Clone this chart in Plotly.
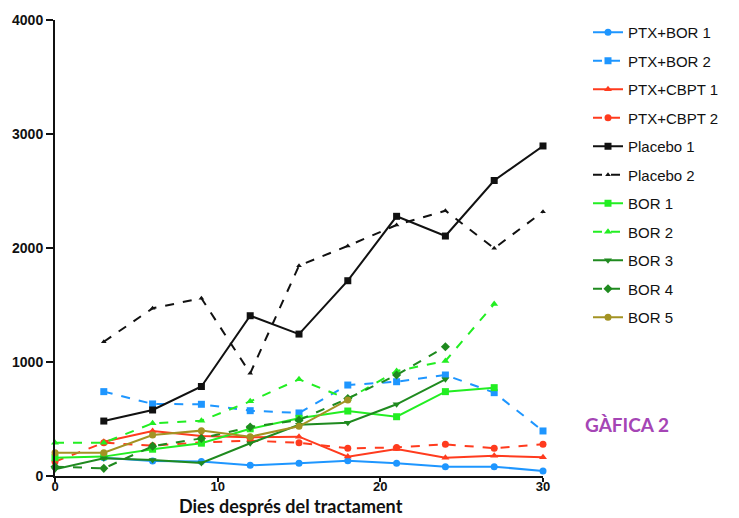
import plotly.graph_objects as go

days = [0, 3, 6, 9, 12, 15, 18, 21, 24, 27, 30]

ptx_bor_1 = [None, 161, 132, 128, 94, 111, 134, 111, 82, 82, 44]
ptx_bor_2 = [None, 740, 632, 629, 573, 553, 798, 827, 886, 731, 395]
ptx_cbpt_1 = [None, 301, 395, 350, 340, 345, 170, 237, 161, 178, 164]
ptx_cbpt_2 = [126, 292, 266, 295, 310, 292, 243, 251, 278, 243, 278]
placebo_1 = [None, 482, 579, 785, 1406, 1245, 1713, 2278, 2105, 2592, 2895]
placebo_2 = [None, 1178, 1471, 1559, 901, 1845, 2018, 2202, 2327, 1997, 2319]
bor_1 = [161, 170, 235, 288, 414, 506, 570, 520, 740, 775, None]
bor_2 = [292, 292, 462, 485, 655, 848, 675, 921, 1009, 1509, None]
bor_3 = [58, 155, 140, 114, 287, 450, 468, 629, 848, None, None]
bor_4 = [82, 67, 262, 330, 430, 490, 680, 886, 1134, None, None]
bor_5 = [205, 205, 360, 398, 345, 436, 667, None, None, None, None]

x_ticks = [0, 10, 20, 30]
y_ticks = [0, 1000, 2000, 3000, 4000]

BLUE = "#1E96FF"
RED = "#FF3B1E"
GREEN = "#22EE22"
DGREEN = "#1F8A1F"
OLIVE = "#A39323"

series = [
    ("PTX+BOR 1", ptx_bor_1, BLUE, "solid", "circle"),
    ("PTX+BOR 2", ptx_bor_2, BLUE, "dash", "square"),
    ("PTX+CBPT 1", ptx_cbpt_1, RED, "solid", "triangle-up"),
    ("PTX+CBPT 2", ptx_cbpt_2, RED, "dash", "circle"),
    ("Placebo 1", placebo_1, "#111111", "solid", "square"),
    ("Placebo 2", placebo_2, "#111111", "dash", "triangle-up"),
    ("BOR 1", bor_1, GREEN, "solid", "square"),
    ("BOR 2", bor_2, GREEN, "dash", "triangle-up"),
    ("BOR 3", bor_3, DGREEN, "solid", "triangle-down"),
    ("BOR 4", bor_4, DGREEN, "dash", "diamond"),
    ("BOR 5", bor_5, OLIVE, "solid", "circle"),
]

# page is rendered with an 8px body margin, so work in page pixels and shift
OFF = 8
W, H = 739 - OFF, 518 - OFF
PL, PR, PT, PB = 55, 543, 20, 476          # plot area in page pixels
L, T = PL - OFF, PT - OFF
R, B = W - (PR - OFF), H - (PB - OFF)
PW, PH = W - L - R, H - T - B


def px_x(px):
    return (px - PL) / PW


def px_y(py):
    return (PB - py) / PH


fig = go.Figure()
for i, (name, vals, color, dash, sym) in enumerate(series):
    size = 5 if name == "Placebo 2" else 7
    fig.add_trace(go.Scatter(
        x=days, y=vals, name=name, mode="lines+markers",
        line=dict(color=color, width=2, dash=dash),
        marker=dict(color=color, size=size, symbol=sym),
        legendgroup=f"g{i}",
        cliponaxis=False,
    ))

fig.add_annotation(
    text="<b>GÀFICA 2</b>",
    x=px_x(627), y=px_y(424), xref="paper", yref="paper",
    xanchor="center", yanchor="middle",
    showarrow=False, font=dict(family="Lato, Open Sans, sans-serif", size=19, color="#A545B5"),
)
fig.add_annotation(
    text="<b>Dies després del tractament</b>",
    x=px_x(291), y=px_y(518), xref="paper", yref="paper",
    xanchor="center", yanchor="bottom", borderpad=0,
    showarrow=False, font=dict(family="Lato, Open Sans, sans-serif", size=18, color="#111111"),
)

fig.update_layout(
    width=W, height=H,
    margin=dict(l=L, r=R, t=T, b=B, autoexpand=False),
    paper_bgcolor="white", plot_bgcolor="white",
    font=dict(family="Liberation Sans, Arial, sans-serif", color="#111111"),
    legend=dict(
        x=px_x(588), y=px_y(16), xanchor="left", yanchor="top",
        font=dict(size=15, family="Liberation Sans, Arial, sans-serif"),
        tracegroupgap=6, itemwidth=30, bgcolor="rgba(0,0,0,0)",
        maxheight=480,
    ),
    xaxis=dict(
        range=[0, 30], tickvals=x_ticks, ticktext=[f"<b>{v}</b>" for v in x_ticks],
        showline=True, linecolor="#111111", linewidth=2, ticks="outside",
        ticklen=4, tickwidth=2, tickcolor="#111111", showgrid=False, zeroline=False,
        automargin=False, ticklabelstandoff=-7,
        tickfont=dict(size=13, family="Liberation Sans, Arial, sans-serif"),
    ),
    yaxis=dict(
        range=[0, 4000], tickvals=y_ticks, ticktext=[f"<b>{v}</b>" for v in y_ticks],
        showline=True, linecolor="#111111", linewidth=2, ticks="outside",
        ticklen=7, tickwidth=2, tickcolor="#111111", showgrid=False, zeroline=False,
        automargin=False,
        tickfont=dict(size=14, family="Liberation Sans, Arial, sans-serif"),
    ),
)

fig.write_html("out.html")
